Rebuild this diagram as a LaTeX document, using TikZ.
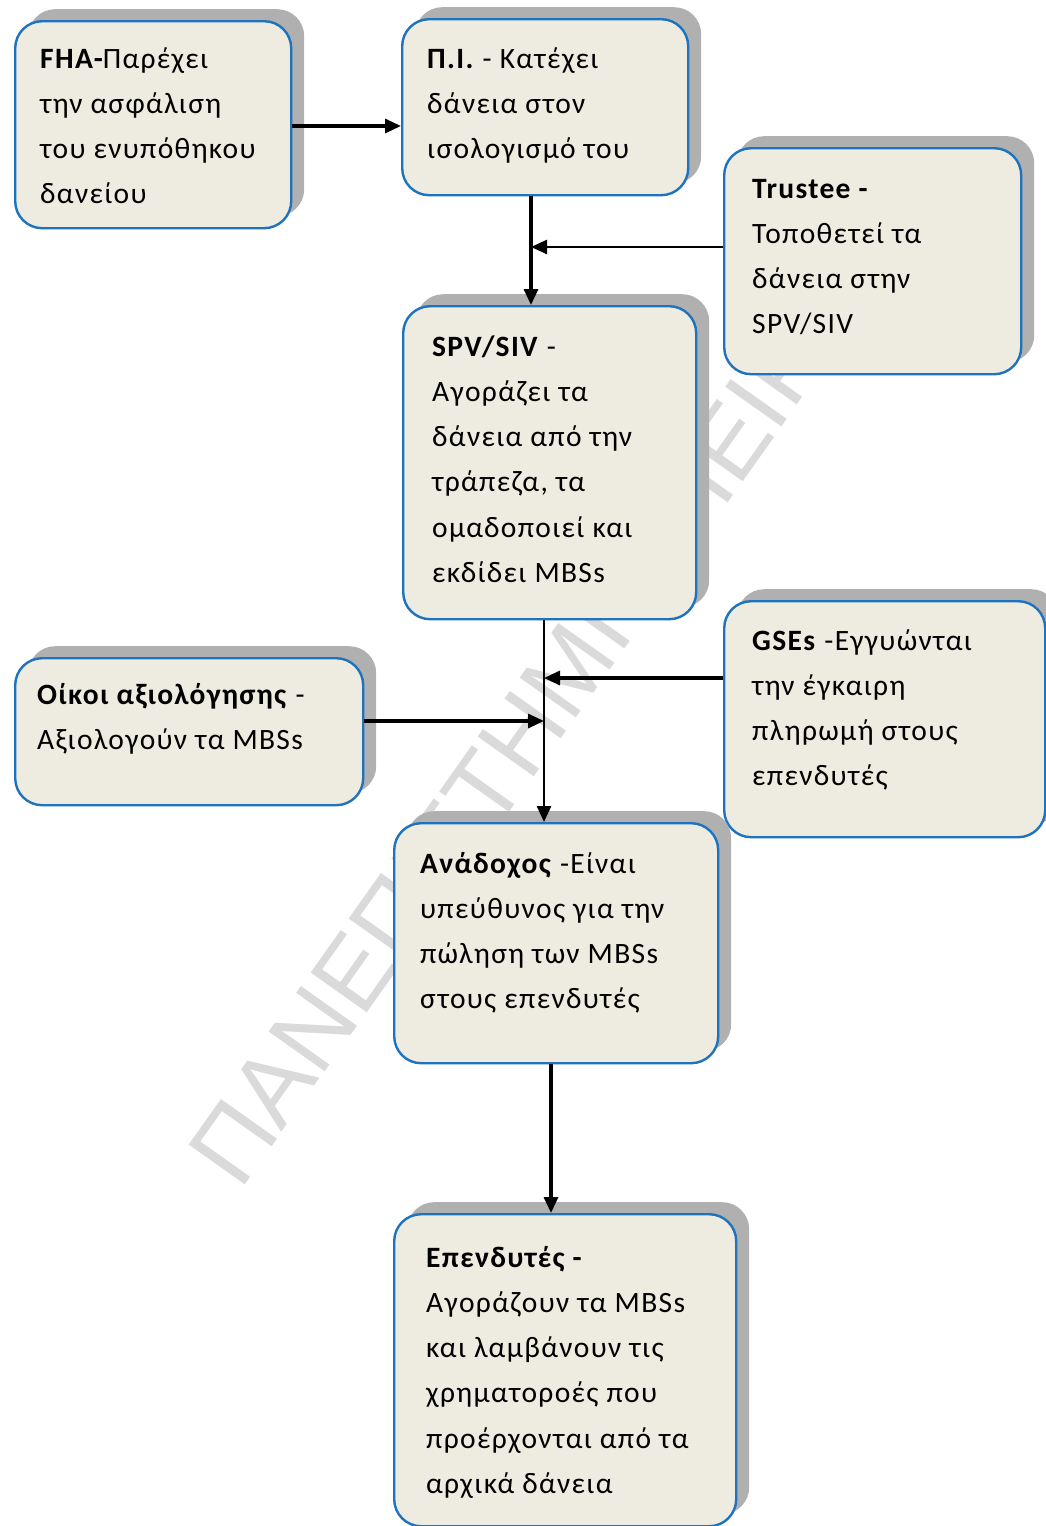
\documentclass[tikz,border=0pt]{standalone}
\usepackage{fontspec}
\setmainfont{Carlito}[LetterSpace=4.5]
\newfontfamily\wmfont{Liberation Sans}
\usetikzlibrary{shadows,arrows.meta}
\definecolor{boxfill}{HTML}{EEECE1}
\definecolor{boxline}{HTML}{1E73BE}
\definecolor{wmgray}{HTML}{DADADA}
\definecolor{shadegray}{HTML}{B0B0B0}
\newcommand{\boxtxt}[1]{\parbox[t]{330pt}{\raggedright\fontsize{29.5}{45.3}\selectfont #1}}
\begin{document}
\begin{tikzpicture}[x=1pt,y=-1pt,
  box/.style={draw=boxline, line width=2.4pt, fill=boxfill, rounded corners=27pt,
    inner sep=0pt, anchor=north west,
    drop shadow={shadow xshift=13pt, shadow yshift=12pt, fill=shadegray, opacity=1}},
  lbl/.style={anchor=base west, inner sep=0pt},
  arr/.style={-{Triangle[length=16pt,width=14pt]}, line width=3.2pt},
  thinarr/.style={arr, line width=2.4pt},
]
\useasboundingbox (0,0) rectangle (1046,1526);
\fill[white] (0,0) rectangle (1046,1526);

% watermark
\node[rotate=54.7, anchor=base west, inner sep=0pt, text=wmgray,
  font=\wmfont\fontsize{100}{100}\selectfont] (wmark) at (240,1192) {ΠΑΝΕΠΙΣΤΗΜΙΟ ΠΕΙΡΑΙΩΣ};

% boxes
\node[box, minimum width=276pt, minimum height=207pt] (fha) at (14,20) {};
\node[box, minimum width=286pt, minimum height=176pt] (pi) at (401,18) {};
\node[box, minimum width=297pt, minimum height=226pt] (trustee) at (723,147) {};
\node[box, minimum width=293pt, minimum height=313pt] (spv) at (402,305) {};
\node[box, minimum width=348pt, minimum height=147pt] (oikoi) at (14,657) {};
\node[box, minimum width=321pt, minimum height=236pt] (gses) at (723,600) {};
\node[box, minimum width=324pt, minimum height=240pt] (anad) at (393,822) {};
\node[box, minimum width=342pt, minimum height=312pt] (epen) at (393,1213) {};

% texts
\node[lbl] (fhaT) at (40,68) {\boxtxt{\textbf{FHA-}Παρέχει\\την ασφάλιση\\του ενυπόθηκου\\δανείου}};
\node[lbl] (piT) at (427,68) {\boxtxt{\textbf{Π.Ι.} - Κατέχει\\δάνεια στον\\ισολογισμό του}};
\node[lbl] (trusteeT) at (752,198) {\boxtxt{\textbf{Trustee -}\\Τοποθετεί τα\\δάνεια στην\\SPV/SIV}};
\node[lbl] (spvT) at (432,356) {\boxtxt{\textbf{SPV/SIV} -\\Αγοράζει τα\\δάνεια από την\\τράπεζα, τα\\ομαδοποιεί και\\εκδίδει MBSs}};
\node[lbl] (oikoiT) at (37,704) {\boxtxt{\textbf{Οίκοι αξιολόγησης} -\\Αξιολογούν τα MBSs}};
\node[lbl] (gsesT) at (752,650) {\boxtxt{\textbf{GSEs} -Εγγυώνται\\την έγκαιρη\\πληρωμή στους\\επενδυτές}};
\node[lbl] (anadT) at (420,873) {\boxtxt{\textbf{Ανάδοχος} -Είναι\\υπεύθυνος για την\\πώληση των MBSs\\στους επενδυτές}};
\node[lbl] (epenT) at (426,1267) {\boxtxt{\textbf{Επενδυτές -}\\Αγοράζουν τα MBSs\\και λαμβάνουν τις\\χρηματοροές που\\προέρχονται από τα\\αρχικά δάνεια}};

% connectors
\coordinate (r1) at (0,126);
\coordinate (c1) at (531,0);
\coordinate (j1) at (531,247);
\coordinate (c2) at (544,0);
\coordinate (j2) at (544,678);
\coordinate (j3) at (544,721);
\coordinate (c3) at (551,0);

\draw[arr] (fha.east |- r1) -- (pi.west |- r1);
\draw[arr] (pi.south -| c1) -- (spv.north -| c1);
\draw[thinarr] (trustee.west |- j1) -- (j1);
\draw[thinarr] (spv.south -| c2) -- (anad.north -| c2);
\draw[arr] (gses.west |- j2) -- (j2);
\draw[arr] (oikoi.east |- j3) -- (j3);
\draw[arr] (anad.south -| c3) -- (epen.north -| c3);
\end{tikzpicture}
\end{document}
